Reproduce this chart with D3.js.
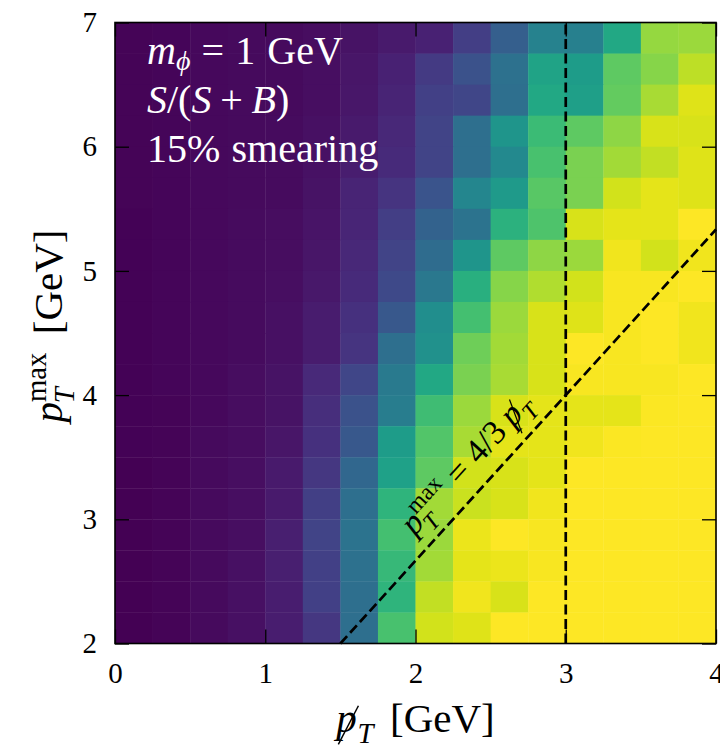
<!DOCTYPE html>
<html>
<head>
<meta charset="utf-8">
<script src="https://cdn.jsdelivr.net/npm/d3@7/dist/d3.min.js"></script>
<style>
  html, body { margin: 0; padding: 0; background: #fff; }
  svg { display: block; }
  text { font-family: "Liberation Serif", "DejaVu Serif", serif; }
</style>
</head>
<body>
<svg id="chart" width="720" height="746"></svg>
<script>
// ---- data ----
// lower edges of the missing-pT bins (x axis, GeV)
const ptMissBins = [0, 0.25, 0.5, 0.75, 1.0, 1.25, 1.5, 1.75, 2.0, 2.25, 2.5, 2.75, 3.0, 3.25, 3.5, 3.75];
// lower edges of the pT^max bins (y axis, GeV), from top to bottom
const ptMaxBins = [6.75, 6.5, 6.25, 6.0, 5.75, 5.5, 5.25, 5.0, 4.75, 4.5, 4.25, 4.0, 3.75, 3.5, 3.25, 3.0, 2.75, 2.5, 2.25, 2.0];
const binSize = 0.25;
// S/(S+B) per cell; one row per pT^max bin (top to bottom), one entry per missing-pT bin
const sOverSB = [
  [0.010,0.015,0.020,0.024,0.025,0.035,0.050,0.070,0.090,0.18,0.30,0.44,0.43,0.60,0.84,0.85],
  [0.010,0.015,0.020,0.024,0.026,0.036,0.055,0.090,0.170,0.25,0.37,0.58,0.55,0.75,0.82,0.90],
  [0.010,0.014,0.020,0.025,0.027,0.038,0.060,0.100,0.190,0.21,0.36,0.60,0.56,0.76,0.87,0.95],
  [0.008,0.014,0.020,0.025,0.028,0.040,0.070,0.110,0.200,0.36,0.52,0.68,0.75,0.83,0.94,0.94],
  [0.008,0.014,0.020,0.026,0.030,0.043,0.080,0.120,0.200,0.36,0.47,0.71,0.80,0.86,0.91,0.95],
  [0.008,0.013,0.021,0.027,0.031,0.047,0.100,0.150,0.260,0.46,0.54,0.74,0.80,0.93,0.96,0.95],
  [0.006,0.013,0.021,0.028,0.032,0.052,0.105,0.180,0.310,0.38,0.64,0.72,0.94,0.96,0.96,1.00],
  [0.006,0.013,0.021,0.028,0.034,0.058,0.110,0.200,0.350,0.52,0.75,0.83,0.85,0.98,0.93,0.98],
  [0.006,0.012,0.022,0.030,0.038,0.065,0.120,0.220,0.400,0.63,0.82,0.88,0.93,0.99,0.99,1.00],
  [0.005,0.012,0.022,0.030,0.042,0.075,0.140,0.270,0.490,0.70,0.85,0.94,0.95,0.99,1.00,0.98],
  [0.005,0.012,0.022,0.031,0.040,0.075,0.150,0.360,0.500,0.78,0.86,0.94,1.00,0.99,1.00,0.98],
  [0.004,0.012,0.023,0.032,0.050,0.115,0.210,0.410,0.600,0.80,0.87,0.94,0.99,0.99,0.99,1.00],
  [0.004,0.011,0.023,0.034,0.050,0.130,0.250,0.420,0.690,0.85,0.94,0.96,0.96,0.96,0.995,1.00],
  [0.004,0.011,0.024,0.035,0.058,0.140,0.270,0.550,0.730,0.87,0.96,0.96,0.98,0.995,1.00,1.00],
  [0.003,0.011,0.024,0.036,0.070,0.160,0.330,0.570,0.750,0.93,0.94,0.96,1.00,1.00,1.00,1.00],
  [0.003,0.011,0.025,0.038,0.070,0.185,0.360,0.650,0.860,0.92,0.94,0.98,1.00,1.00,1.00,1.00],
  [0.003,0.010,0.025,0.038,0.085,0.200,0.380,0.700,0.850,0.97,1.00,0.99,1.00,1.00,1.00,1.00],
  [0.002,0.010,0.025,0.040,0.085,0.190,0.370,0.670,0.860,0.96,0.97,0.99,1.00,1.00,1.00,1.00],
  [0.002,0.010,0.026,0.040,0.080,0.190,0.360,0.650,0.910,0.98,0.94,1.00,1.00,1.00,1.00,1.00],
  [0.002,0.010,0.026,0.040,0.080,0.160,0.360,0.710,0.930,0.95,1.00,1.00,1.00,1.00,1.00,1.00]
];
const xTicks = [0, 1, 2, 3, 4];
const yTicks = [2, 3, 4, 5, 6, 7];
const cutPtMiss = 3;          // vertical dashed line
const diagSlope = 4 / 3;      // pT^max = 4/3 missing pT

// ---- layout ----
const svg = d3.select("#chart");
const pL = 115, pR = 716, pT = 22.5, pB = 643.5;
const x = d3.scaleLinear().domain([0, 4]).range([pL, pR]);
const y = d3.scaleLinear().domain([2, 7]).range([pB, pT]);
const color = d3.scaleSequential(d3.interpolateViridis).domain([0, 1]);

// cells
const cells = [];
sOverSB.forEach((row, i) => row.forEach((v, j) => cells.push({x0: ptMissBins[j], y0: ptMaxBins[i], v})));
svg.append("g").selectAll("rect").data(cells).join("rect")
  .attr("x", d => x(d.x0))
  .attr("y", d => y(d.y0 + binSize))
  .attr("width", d => x(d.x0 + binSize) - x(d.x0) + 0.4)
  .attr("height", d => y(d.y0) - y(d.y0 + binSize) + 0.4)
  .attr("fill", d => color(d.v));

// dashed guide lines
const dash = "10,4.5";
const dashW = 2.7;
svg.append("line")
  .attr("x1", x(cutPtMiss)).attr("x2", x(cutPtMiss))
  .attr("y1", y(2)).attr("y2", y(7))
  .attr("stroke", "#000").attr("stroke-width", dashW).attr("stroke-dasharray", dash);
const diagX0 = 2 / diagSlope, diagX1 = 4;
svg.append("line")
  .attr("x1", x(diagX0)).attr("y1", y(diagSlope * diagX0))
  .attr("x2", x(diagX1)).attr("y2", y(diagSlope * diagX1))
  .attr("stroke", "#000").attr("stroke-width", dashW).attr("stroke-dasharray", dash);

// ---- math text helper ----
function mathLine(parent, tokens, size, fill) {
  const g = parent.append("g").attr("fill", fill || "#000");
  let cx = 0;
  tokens.forEach(tok => {
    if (tok.gap !== undefined) { cx += tok.gap * size; return; }
    if (tok.sup !== undefined || tok.sub !== undefined) {
      let w = 0;
      const both = tok.sup !== undefined && tok.sub !== undefined;
      if (tok.sup !== undefined) {
        const t = g.append("text").attr("x", cx + (tok.supDx || 0) * size).attr("y", -0.40 * size)
          .attr("font-size", 0.7 * size).style("font-style", tok.supIt ? "italic" : "normal").text(tok.sup);
        w = Math.max(w, t.node().getComputedTextLength() + (tok.supDx || 0) * size);
      }
      if (tok.sub !== undefined) {
        const drop = tok.subY !== undefined ? tok.subY : (both ? 0.30 : 0.28);
        const t = g.append("text").attr("x", cx + (tok.subDx || 0) * size).attr("y", drop * size)
          .attr("font-size", 0.7 * size).style("font-style", tok.subIt ? "italic" : "normal").text(tok.sub);
        w = Math.max(w, t.node().getComputedTextLength() + (tok.subDx || 0) * size);
      }
      cx += w;
      return;
    }
    const t = g.append("text").attr("x", cx).attr("y", 0).attr("font-size", size)
      .style("font-style", tok.it ? "italic" : "normal").text(tok.t);
    const w = t.node().getComputedTextLength();
    if (tok.slash) {
      g.append("line")
        .attr("x1", cx + 0.05 * size).attr("y1", 0.30 * size)
        .attr("x2", cx + w + 0.04 * size).attr("y2", -0.64 * size)
        .attr("stroke", fill || "#000").attr("stroke-width", Math.max(1, size / 28));
    }
    cx += w;
  });
  return {g, width: cx};
}

// ---- axes (inward ticks on all four sides) ----
const tickLen = 14;
const fontTick = 29;
const axB = svg.append("g").attr("transform", `translate(0,${pB})`)
  .call(d3.axisBottom(x).tickValues(xTicks).tickSize(-tickLen).tickPadding(19).tickFormat(d3.format("d")));
const axL = svg.append("g").attr("transform", `translate(${pL},0)`)
  .call(d3.axisLeft(y).tickValues(yTicks).tickSize(-tickLen).tickPadding(18).tickFormat(d3.format("d")));
const axT = svg.append("g").attr("transform", `translate(0,${pT})`)
  .call(d3.axisTop(x).tickValues(xTicks).tickSize(-tickLen).tickFormat(""));
const axR = svg.append("g").attr("transform", `translate(${pR},0)`)
  .call(d3.axisRight(y).tickValues(yTicks).tickSize(-tickLen).tickFormat(""));
[axB, axL, axT, axR].forEach(a => {
  a.select(".domain").remove();
  a.selectAll(".tick line").attr("stroke", "#000").attr("stroke-width", 1.3);
  a.selectAll(".tick text").attr("font-size", fontTick).attr("fill", "#000")
    .attr("font-family", "'Liberation Serif', 'DejaVu Serif', serif");
});

// frame
svg.append("rect").attr("x", pL).attr("y", pT).attr("width", pR - pL).attr("height", pB - pT)
  .attr("fill", "none").attr("stroke", "#000").attr("stroke-width", 1.6);

// ---- axis titles ----
const labSize = 41;
const xl = mathLine(svg, [
  {t: "p", it: true, slash: true}, {sub: "T", subIt: true, subDx: 0.02}, {gap: 0.4}, {t: "[GeV]"}
], labSize);
xl.g.attr("transform", `translate(${(pL + pR) / 2 - xl.width / 2},732)`);

const ylg = svg.append("g").attr("transform", "translate(62,326) rotate(-90)");
const yl = mathLine(ylg, [
  {t: "p", it: true}, {sup: "max", sub: "T", subIt: true, subDx: -0.03}, {gap: 0.45}, {t: "[GeV]"}
], labSize);
yl.g.attr("transform", `translate(${-yl.width / 2},0)`);

// ---- in-plot annotation (white) ----
const annSize = 40;
const a1 = mathLine(svg, [
  {t: "m", it: true}, {sub: "\u03D5", subIt: true, subY: 0.16}, {gap: 0.28}, {t: "="}, {gap: 0.28}, {t: "1"}, {gap: 0.3}, {t: "GeV"}
], annSize, "#fff");
a1.g.attr("transform", "translate(147,64)");
const a2 = mathLine(svg, [
  {t: "S", it: true}, {t: "/("}, {t: "S", it: true}, {gap: 0.22}, {t: "+"}, {gap: 0.22}, {t: "B", it: true}, {t: ")"}
], annSize, "#fff");
a2.g.attr("transform", "translate(147,113)");
const a3 = mathLine(svg, [
  {t: "15%"}, {gap: 0.28}, {t: "smearing"}
], annSize, "#fff");
a3.g.attr("transform", "translate(147,162)");

// ---- label along the diagonal ----
const footX = 2.5, footY = diagSlope * footX;
const ang = Math.atan2(y(diagSlope * 4) - y(diagSlope * 1.5), x(4) - x(1.5)) * 180 / Math.PI;
const dg = svg.append("g").attr("transform", `translate(${x(footX)},${y(footY)}) rotate(${ang})`);
const dl = mathLine(dg, [
  {t: "p", it: true}, {sup: "max", sub: "T", subIt: true, subDx: -0.03}, {gap: 0.28}, {t: "="}, {gap: 0.28},
  {t: "4/3"}, {gap: 0.22}, {t: "p", it: true, slash: true}, {sub: "T", subIt: true}
], 34);
dl.g.attr("transform", `translate(${-dl.width / 2 - 6},-17)`);
</script>
</body>
</html>
